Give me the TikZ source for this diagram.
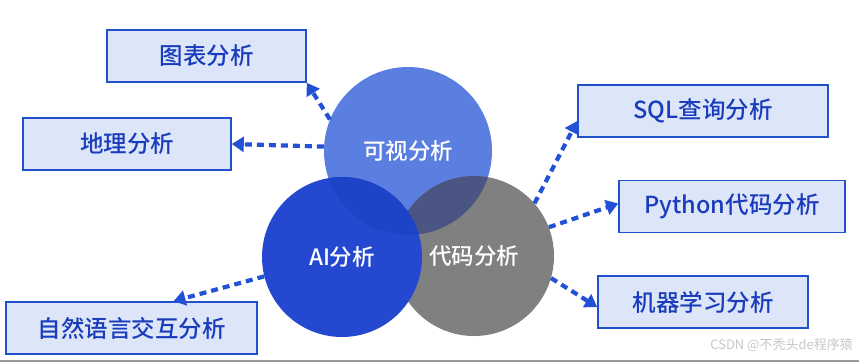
\documentclass[tikz,border=0pt]{standalone}
\usepackage{fontspec}
\setmainfont{Noto Sans CJK SC}[BoldFont={Noto Sans CJK SC Medium}]
\usetikzlibrary{arrows.meta}
\definecolor{visblue}{HTML}{5B7FE0}
\definecolor{aiblue}{HTML}{2449D0}
\definecolor{aivis}{HTML}{1D43C6}
\definecolor{codegray}{HTML}{808080}
\definecolor{viscode}{HTML}{4A5584}
\definecolor{boxfill}{HTML}{DCE6F8}
\definecolor{boxline}{HTML}{2150CC}
\definecolor{boxtext}{HTML}{1A3CBC}
\definecolor{arrowblue}{HTML}{2251D6}
\tikzstyle{venn}=[shape=circle, inner sep=0, text=white, font=\fontsize{22.5}{26}\selectfont\bfseries]
\tikzstyle{box}=[shape=rectangle, draw=boxline, line width=1.6pt, fill=boxfill, text=boxtext, minimum height=52pt, inner sep=0, font=\fontsize{23.5}{27}\selectfont\bfseries]
\tikzstyle{dasharrow}=[draw=arrowblue, line width=4.2pt, dash pattern=on 7pt off 5pt, -{Triangle[length=12pt, width=15pt]}]

\begin{document}
\begin{tikzpicture}[x=1pt, y=1pt]
\useasboundingbox (0,0) rectangle (859,362);
%\draw[help lines,step=50] (0,0) grid (859,362);
% circles
\node at (408,211)[venn, fill=visblue, minimum size=168pt](vis){可视分析};
\node at (474,106)[venn, fill=codegray, minimum size=160pt](code){代码分析};
\begin{scope}
\clip (vis.center) circle (84);
\fill[viscode] (code.center) circle (80);
\end{scope}
\node at (342,105)[venn, fill=aiblue, minimum size=160pt](ai){AI分析};
\begin{scope}
\clip (ai.center) circle (80);
\fill[aivis] (vis.center) circle (84);
\end{scope}
% boxes
\node at (206.5,306)[box, minimum width=199pt](chart){图表分析};
\node at (127,218)[box, minimum width=208pt](geo){地理分析};
\node at (131.5,34)[box, minimum width=251pt](nlp){自然语言交互分析};
\node at (703,251)[box, minimum width=250pt](sql){SQL查询分析};
\node at (732,155.5)[box, minimum width=226pt](py){Python代码分析};
\node at (703,60)[box, minimum width=210pt](ml){机器学习分析};
% arrows
\draw[dasharrow] (vis.158)--(chart.south east);
\draw[dasharrow] (vis.177)--(geo.east);
\draw[dasharrow] (ai.194)--([xshift=42pt]nlp.north);
\draw[dasharrow] (code.41)--([yshift=-10pt]sql.west);
\draw[dasharrow] (code.21)--([yshift=3pt]py.west);
\draw[dasharrow] (code.-16)--([yshift=-5pt]ml.west);
% watermark
\node at (853,17)[anchor=east, inner sep=0, text=black!22, font=\fontsize{13}{15}\selectfont](mark){CSDN @不秃头de程序猿};
\draw[black!40, line width=1.2pt] (0,1)--(859,1);
\end{tikzpicture}
\end{document}
